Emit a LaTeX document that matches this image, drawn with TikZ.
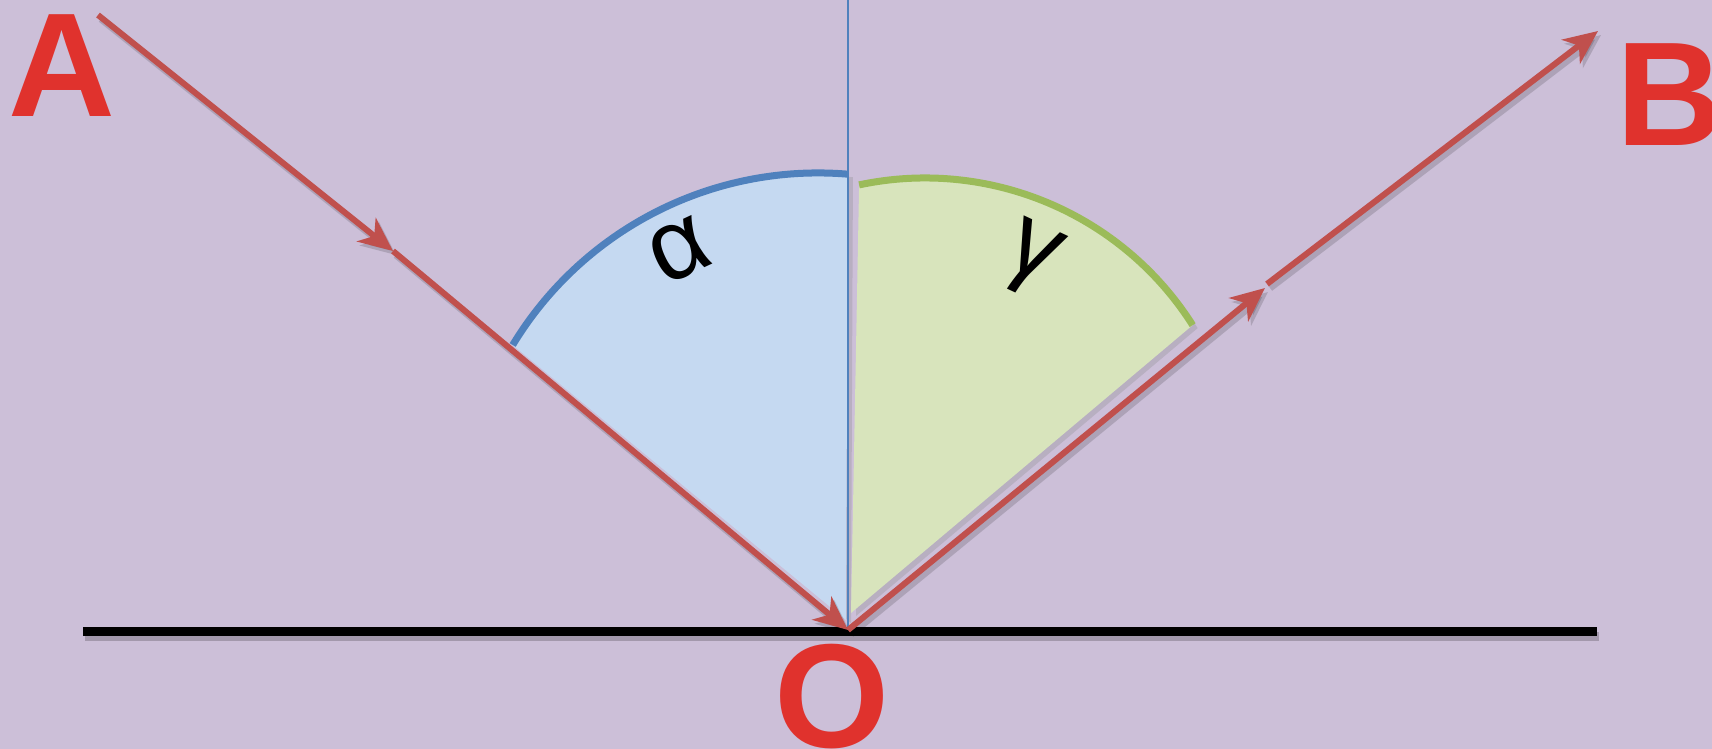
\documentclass[tikz,border=0pt]{standalone}
\usepackage{fontspec}
\setmainfont{Liberation Sans}
\usetikzlibrary{arrows.meta,shadows}
\definecolor{bg}{RGB}{204,191,216}
\definecolor{ray}{RGB}{192,80,77}
\definecolor{bluefill}{RGB}{197,217,241}
\definecolor{blueline}{RGB}{79,129,189}
\definecolor{greenfill}{RGB}{216,228,188}
\definecolor{greenline}{RGB}{155,187,89}
\definecolor{lbl}{RGB}{224,50,45}
\tikzset{
  rayline/.style={draw=ray, line width=3pt,
    -{Stealth[length=17pt,width=15pt,inset=5pt]},
    preaction={draw=black, opacity=0.15, line width=3.5pt,
      transform canvas={shift={(1.5pt,-2pt)}}}},
  mirror/.style={draw=black, line width=4.5pt,
    preaction={draw=black, opacity=0.2, line width=4.5pt,
      transform canvas={shift={(1pt,-2.5pt)}}}},
  normalline/.style={draw=blueline, line width=1pt},
  sectorshadow/.style={drop shadow={opacity=0.25, shadow xshift=2.5pt, shadow yshift=-1.5pt}},
  bigletter/.style={text=lbl, inner sep=0pt, font=\fontsize{74}{74}\selectfont\bfseries},
  greek/.style={text=black, inner sep=0pt, font=\fontsize{50}{50}\selectfont},
}
\begin{document}
\begin{tikzpicture}[x=0.5pt,y=-0.5pt]
\useasboundingbox (0,0) rectangle (1712,749);
\fill[bg] (0,0) rectangle (1712,749);

% points
\coordinate (A0) at (98,15);
\coordinate (M1) at (393,251);
\coordinate (O) at (848,630);
\coordinate (M2) at (1265,288);
\coordinate (M2b) at (1267,284);
\coordinate (B1) at (1598,31);
\coordinate (N) at (848,0);
\coordinate (ML) at (83,631);
\coordinate (MR) at (1597,631);
\coordinate (apexB) at (846,620);
\coordinate (apexG) at (851,613);

% mirror
\draw[mirror] (ML) -- (MR);

% sectors
\fill[bluefill, sectorshadow] (apexB) -- (512.7,345) arc[start angle=-148.8, end angle=-85.2, radius=357] -- cycle;
\fill[greenfill, sectorshadow] (apexG) -- (859.1,184.9) arc[start angle=-102, end angle=-32.4, radius=317] -- cycle;
\draw[blueline, line width=3.5pt] (512.7,345) arc[start angle=-148.8, end angle=-85.2, radius=357];
\draw[greenline, line width=3.5pt] (859.1,184.9) arc[start angle=-102, end angle=-32.4, radius=317];

% normal
\draw[normalline] (N) -- (O);

% rays
\draw[rayline] (A0) -- (M1);
\draw[rayline] (M1) -- (O);
\draw[rayline] (O) -- (M2);
\draw[rayline] (M2b) -- (B1);

% labels
\node[bigletter, anchor=base] (labA) at (62,117) {A};
\node[bigletter, anchor=base] (labB) at (1670,145) {B};
\node[bigletter, anchor=base] (labO) at (832,747) {O};
\node[greek, rotate=25] (alpha) at (680,250) {α};
\node[greek, rotate=-25] (gamma) at (1031,260) {γ};
\end{tikzpicture}
\end{document}
